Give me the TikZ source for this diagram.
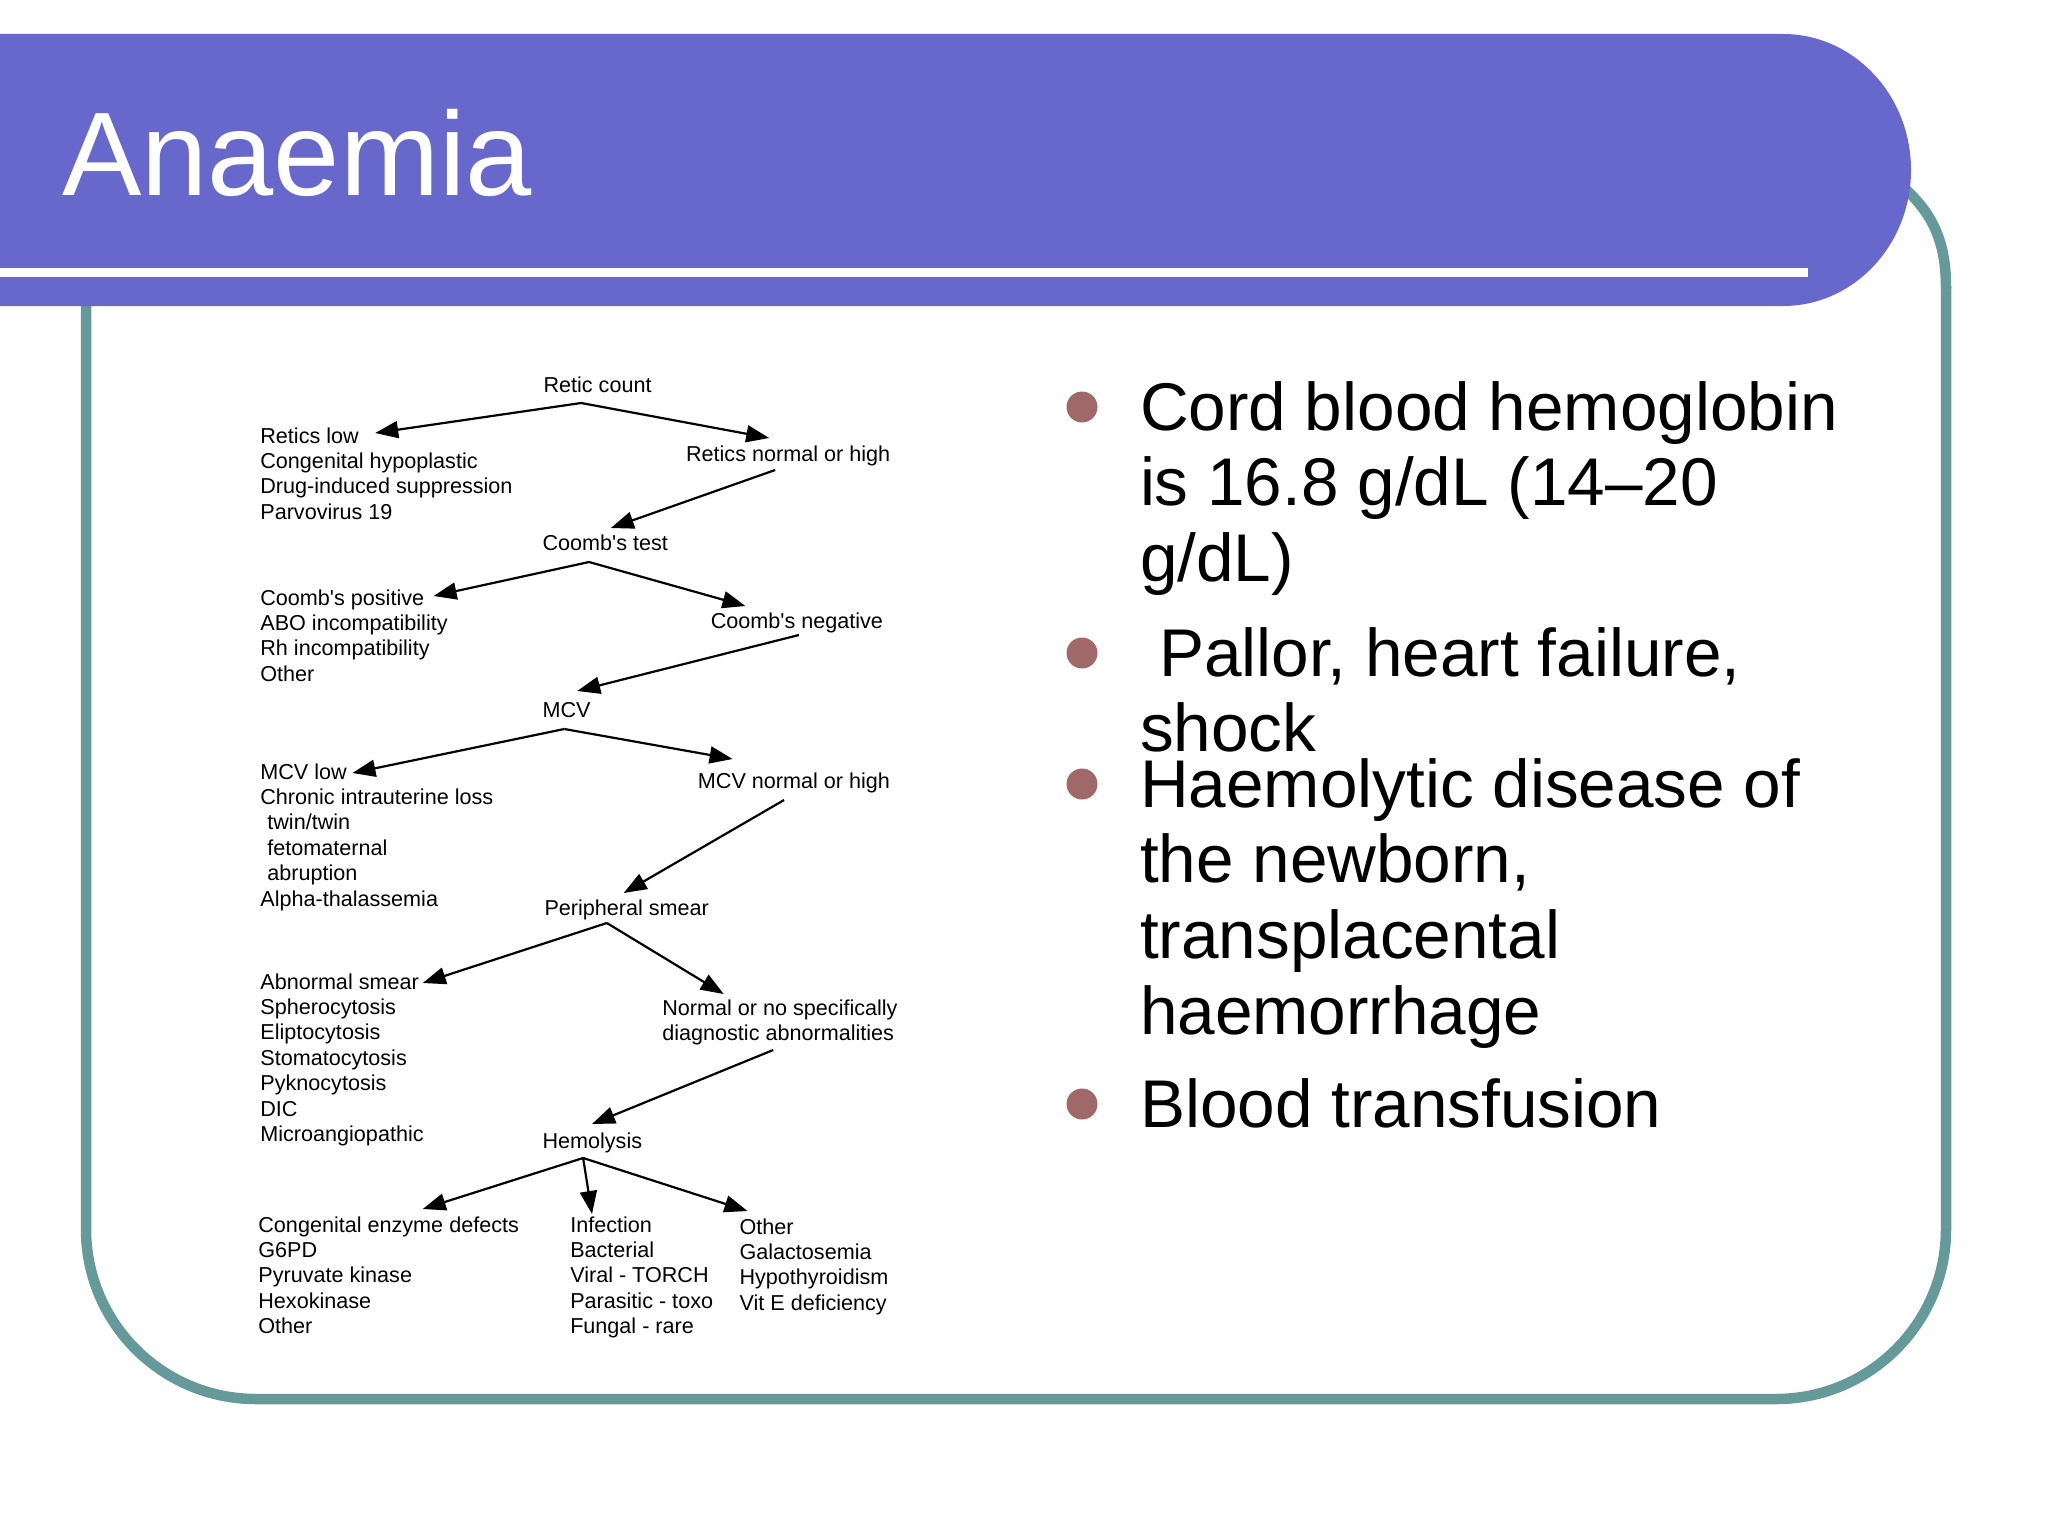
\documentclass[tikz,border=0pt]{standalone}
\usepackage{fontspec}
\setmainfont{Liberation Sans}
\usetikzlibrary{arrows.meta}
\definecolor{bandblue}{RGB}{104,104,204}
\definecolor{tealframe}{RGB}{102,153,153}
\definecolor{dotbrown}{RGB}{160,104,104}
\newcommand\flowfont{\fontsize{21.6}{25.4}\selectfont}
\newcommand\fstrut{\rule{0pt}{16.5pt}}
\newcommand\bstrut{\rule{0pt}{50pt}}
\begin{document}
\begin{tikzpicture}[x=1pt,y=-1pt,
  flow/.style={font=\flowfont, inner sep=0pt, outer sep=0pt, align=left, anchor=north west},
  arr/.style={line width=2.2pt, -{Triangle[length=23pt,width=17pt]}},
  bul/.style={font=\fontsize{67.5}{75.7}\selectfont, inner sep=0pt, outer sep=0pt, align=left, anchor=north west},
  dotc/.style={circle, fill=dotbrown, draw=none, minimum size=31pt, inner sep=0pt}]
\useasboundingbox (0,0) rectangle (2048,1536);
\fill[white] (0,0) rectangle (2048,1536);
% frame
\draw[tealframe, line width=10.5pt, rounded corners=170pt] (86,250) -- (86,1399) -- (1946,1399) -- (1946,287);
\draw[tealframe, line width=10.5pt, line cap=round] (1946,288) .. controls (1946,240) and (1932,210) .. (1895,180);
% title band
\fill[bandblue] (0,34) -- (1783,34) arc[start angle=90, end angle=-90, x radius=128pt, y radius=136pt] -- (0,306) -- cycle;
\fill[white] (0,268) rectangle (1808,277);
\node[anchor=base west, inner sep=0pt, text=white, font=\fontsize{119}{119}\selectfont] (title) at (62,195) {Anaemia};
% bullets
\node[dotc] (d1) at (1082,407) {};
\node[dotc] (d2) at (1082,653) {};
\node[dotc] (d3) at (1082,784) {};
\node[dotc] (d4) at (1082,1104) {};
\node[bul] (t1) at (1140,380) {\bstrut Cord blood hemoglobin\\is 16.8 g/dL (14–20\\g/dL)};
\node[bul] (t2) at (1140,626) {\bstrut\hspace*{19pt}Pallor, heart failure,\\shock};
\node[bul] (t3) at (1140,757) {\bstrut Haemolytic disease of\\the newborn,\\transplacental\\haemorrhage};
\node[bul] (t4) at (1140,1077) {\bstrut Blood transfusion};
% flowchart
\begin{scope}[x=0.99pt]
\node[flow] (retic) at (549,375.5) {\fstrut Retic count};
\node[flow] (reticlow) at (263,426.5) {\fstrut Retics low\\Congenital hypoplastic\\Drug-induced suppression\\Parvovirus 19};
\node[flow] (reticnh) at (693,444.5) {\fstrut Retics normal or high};
\node[flow] (coombs) at (548,533.5) {\fstrut Coomb\textquotesingle s test};
\node[flow] (cpos) at (263,588.5) {\fstrut Coomb\textquotesingle s positive\\ABO incompatibility\\Rh incompatibility\\Other};
\node[flow] (cneg) at (718,611.5) {\fstrut Coomb\textquotesingle s negative};
\node[flow] (mcv) at (548,700.5) {\fstrut MCV};
\node[flow] (mcvlow) at (263,762.5) {\fstrut MCV low\\Chronic intrauterine loss\\\hspace*{7pt}twin/twin\\\hspace*{7pt}fetomaternal\\\hspace*{7pt}abruption\\Alpha-thalassemia};
\node[flow] (mcvnh) at (705,771.5) {\fstrut MCV normal or high};
\node[flow] (smear) at (550,898.5) {\fstrut Peripheral smear};
\node[flow] (abn) at (263,972.5) {\fstrut Abnormal smear\\Spherocytosis\\Eliptocytosis\\Stomatocytosis\\Pyknocytosis\\DIC\\Microangiopathic};
\node[flow] (norm) at (669,998.5) {\fstrut Normal or no specifically\\diagnostic abnormalities};
\node[flow] (hemo) at (548,1131.5) {\fstrut Hemolysis};
\node[flow] (cong) at (261,1215.5) {\fstrut Congenital enzyme defects\\G6PD\\Pyruvate kinase\\Hexokinase\\Other};
\node[flow] (inf) at (576,1215.5) {\fstrut Infection\\Bacterial\\Viral - TORCH\\Parasitic - toxo\\Fungal - rare};
\node[flow] (oth) at (747,1217.5) {\fstrut Other\\Galactosemia\\Hypothyroidism\\Vit E deficiency};
% connector points
\coordinate (b1) at (587,403);
\coordinate (b1l) at (379,433);
\coordinate (b1r) at (777,438);
\coordinate (s2) at (783,470);
\coordinate (e2) at (617,528);
\coordinate (b3) at (595,562);
\coordinate (b3l) at (438,596);
\coordinate (b3r) at (753,606);
\coordinate (s4) at (807,635);
\coordinate (e4) at (583,691);
\coordinate (b5) at (570,729);
\coordinate (b5l) at (356,773);
\coordinate (b5r) at (740,759);
\coordinate (s6) at (792,800);
\coordinate (e6) at (630,893);
\coordinate (b7) at (613,923);
\coordinate (b7l) at (427,983);
\coordinate (b7r) at (731,994);
\coordinate (s8) at (781,1050);
\coordinate (e8) at (598,1124);
\coordinate (b9) at (589,1158);
\coordinate (b9l) at (427,1209);
\coordinate (b9m) at (598,1214);
\coordinate (b9r) at (755,1211);
% connectors
\draw[arr] (b1) -- (b1l);
\draw[arr] (b1) -- (b1r);
\draw[arr] (s2) -- (e2);
\draw[arr] (b3) -- (b3l);
\draw[arr] (b3) -- (b3r);
\draw[arr] (s4) -- (e4);
\draw[arr] (b5) -- (b5l);
\draw[arr] (b5) -- (b5r);
\draw[arr] (s6) -- (e6);
\draw[arr] (b7) -- (b7l);
\draw[arr] (b7) -- (b7r);
\draw[arr] (s8) -- (e8);
\draw[arr] (b9) -- (b9l);
\draw[arr] (b9) -- (b9m);
\draw[arr] (b9) -- (b9r);
\end{scope}
\end{tikzpicture}
\end{document}
